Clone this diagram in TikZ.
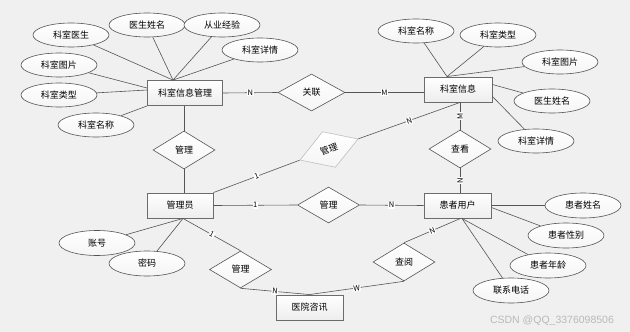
\documentclass[tikz,border=0pt]{standalone}
\usepackage{fontspec}
\setmainfont{Noto Sans CJK SC}
\newfontfamily\wmfont{Liberation Sans}
\usetikzlibrary{shapes.geometric,shadows}
\definecolor{bgc}{RGB}{240,240,240}
\definecolor{linec}{RGB}{85,85,85}
\begin{document}
\begin{tikzpicture}[x=1pt,y=-1pt,
  every node/.style={font=\fontsize{9pt}{10pt}\selectfont, inner sep=0pt},
  entity/.style={rectangle, draw=gray!85!black, line width=0.9pt, top color=white, bottom color=gray!14, minimum height=25pt,
    drop shadow={shadow xshift=0.8pt, shadow yshift=-0.8pt, opacity=0.25}},
  rel/.style={diamond, draw=linec, line width=0.6pt, top color=white, bottom color=gray!8, minimum width=62pt, minimum height=38pt},
  attr/.style={ellipse, draw=linec, line width=0.6pt, top color=white, bottom color=gray!8, minimum width=76pt, minimum height=24pt},
  conn/.style={draw=linec, line width=0.6pt},
  lbl/.style={fill=white, inner sep=0.6pt, font=\fontsize{7.5pt}{8pt}\selectfont}
]
\fill[bgc] (0,0) rectangle (630,332);
\useasboundingbox (0,0) rectangle (630,332);

% entities
\node[entity, minimum width=75pt] (kxgl) at (185,93) {科室信息管理};
\node[entity, minimum width=68pt] (kxxx) at (458,89.5) {科室信息};
\node[entity, minimum width=66pt] (gly) at (180,205.5) {管理员};
\node[entity, minimum width=67pt] (hzyh) at (457.5,205.5) {患者用户};
\node[entity, minimum width=67pt] (yyzx) at (309.5,307.5) {医院咨讯};

% relationships
\node[rel, minimum width=67pt, minimum height=37pt] (gl) at (311.5,92.5) {关联};
\node[rel] (gl1) at (184,150) {管理};
\node[rel, draw=gray!50, rotate=20] (gl2) at (329,149.5) {管理};
\node[rel] (ck) at (460,149) {查看};
\node[rel, minimum height=36pt] (gl3) at (328.5,205) {管理};
\node[rel, minimum height=37pt] (gl4) at (240.5,269.5) {管理};
\node[rel] (cy) at (404,262) {查阅};

% attributes of 科室信息管理
\node[attr] (a1) at (71,35) {科室医生};
\node[attr] (a2) at (147,25) {医生姓名};
\node[attr] (a3) at (222,25) {从业经验};
\node[attr] (a4) at (260,50) {科室详情};
\node[attr] (a5) at (59,65) {科室图片};
\node[attr] (a6) at (59,95) {科室类型};
\node[attr] (a7) at (96,125) {科室名称};

% attributes of 科室信息
\node[attr] (b1) at (416,31) {科室名称};
\node[attr] (b2) at (498,35) {科室类型};
\node[attr] (b3) at (560,62) {科室图片};
\node[attr] (b4) at (552,101) {医生姓名};
\node[attr] (b5) at (536,141) {科室详情};

% attributes of 管理员
\node[attr, minimum height=25pt] (c1) at (97,243) {账号};
\node[attr, minimum height=25pt] (c2) at (147,263.5) {密码};

% attributes of 患者用户
\node[attr, minimum height=25pt] (d1) at (583,205.5) {患者姓名};
\node[attr, minimum height=25pt] (d2) at (566,235.5) {患者性别};
\node[attr, minimum height=25pt] (d3) at (548,265.5) {患者年龄};
\node[attr, minimum height=25pt] (d4) at (511,290.5) {联系电话};

% helper coordinates on entity borders
\coordinate (kxglT) at ([xshift=-12pt]kxgl.north);
\coordinate (kxxxT) at ([xshift=-11pt]kxxx.north);
\coordinate (kxxxB) at ([xshift=2pt]kxxx.south);
\coordinate (glyB) at ([xshift=3pt]gly.south);
\coordinate (hzyhB) at ([xshift=3pt]hzyh.south);
\coordinate (hzyhB2) at ([xshift=4.5pt]hzyh.south);

% attribute connectors
\begin{scope}[every path/.style={conn}]
\draw (a1) -- (kxglT);
\draw (a2) -- (kxglT);
\draw (a3) -- (kxglT);
\draw (a4) -- (kxglT);
\draw (a5) -- ([yshift=5pt]kxgl.west);
\draw (a6) -- ([yshift=3pt]kxgl.west);
\draw (a7) -- (kxgl.south west);

\draw (b1) -- (kxxxT);
\draw (b2) -- (kxxxT);
\draw (b3) -- (kxxxT);
\draw (b4) -- ([yshift=5pt]kxxx.east);
\draw (b5) -- ([yshift=-7pt]kxxx.east);

\draw (c1) -- (glyB);
\draw (c2) -- (glyB);

\draw (d1) -- (hzyh.east);
\draw (d2) -- ([yshift=-2pt]hzyh.east);
\draw (d3) -- (hzyhB2);
\draw (d4) -- (hzyhB2);

% relationship connectors
\draw (kxgl.east) -- node[lbl]{N} (gl.west);
\draw (gl.east) -- node[lbl]{M} (gl.east -| kxxx.west);
\draw (gl1.north) -- (gl1.north |- kxgl.south);
\draw (gl1.south) -- (gl1.south |- gly.north);
\draw (gly.north east) -- node[lbl, sloped]{1} (gl2.west);
\draw (gl2.east) -- node[lbl, sloped]{N} (kxxxB);
\draw (ck.north) -- node[lbl, rotate=90]{M} (kxxxB);
\draw (ck.south) -- node[lbl, rotate=90]{N} (ck.south |- hzyh.north);
\draw (gly.east) -- node[lbl]{1} (gl3.west);
\draw (gl3.east) -- node[lbl]{N} (hzyh.west);
\draw (glyB) -- node[lbl, sloped]{1} (gl4.north);
\draw (gl4.south) -- node[lbl, sloped]{N} (yyzx.north);
\draw (cy.south) -- node[lbl, sloped]{W} (yyzx.north);
\draw (hzyhB) -- node[lbl, sloped]{N} (cy.north);
\end{scope}

% watermark
\node[font=\wmfont\fontsize{10.5pt}{12pt}\selectfont, text=gray!55] (wm) at (552,321) {CSDN @QQ\_3376098506};
\end{tikzpicture}
\end{document}
